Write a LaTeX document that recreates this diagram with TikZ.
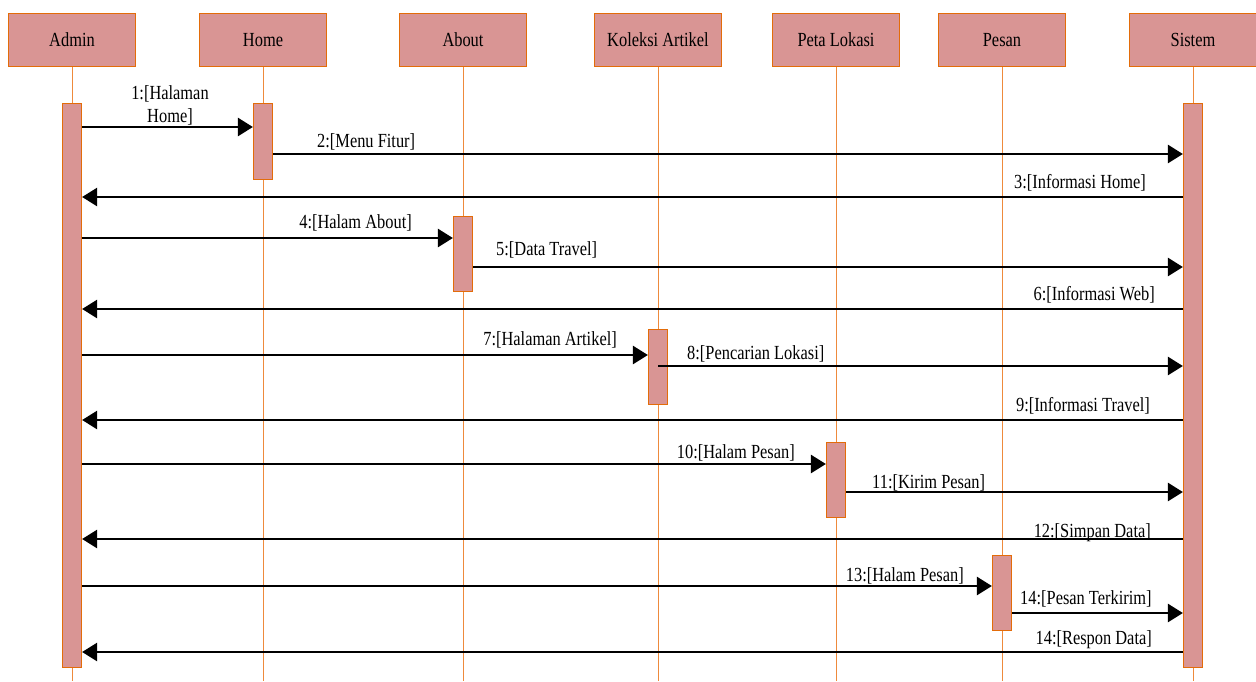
\documentclass[tikz,border=0pt]{standalone}
\usepackage{fontspec}
\setmainfont[FakeStretch=0.82]{Liberation Serif}
\usetikzlibrary{arrows.meta}
\definecolor{boxfill}{HTML}{D99594}
\definecolor{boxline}{HTML}{E36C09}
\definecolor{lifeline}{HTML}{EE8A3C}
\begin{document}
\begin{tikzpicture}[x=1pt,y=-1pt,
  every node/.style={font=\fontsize{20}{23}\selectfont, text=black},
  head/.style={draw=boxline, fill=boxfill, line width=1.2pt, minimum width=127pt, minimum height=53pt, anchor=north, inner sep=0pt},
  act/.style={draw=boxline, fill=boxfill, line width=1.2pt, minimum width=19pt, anchor=north, inner sep=0pt},
  life/.style={draw=lifeline, line width=1pt},
  msg/.style={draw=black, line width=2.6pt, -{Triangle[length=15pt,width=18pt]}},
  lbl/.style={inner sep=0pt, anchor=base west},
  lblr/.style={inner sep=0pt, anchor=base east}]
\useasboundingbox (0,0) rectangle (1256,681);
% headers
\node[head] (hAdmin) at (72,13) {Admin};
\node[head] (hHome) at (263,13) {Home};
\node[head] (hAbout) at (463,13) {About};
\node[head] (hKoleksi) at (658,13) {Koleksi Artikel};
\node[head] (hPeta) at (836,13) {Peta Lokasi};
\node[head] (hPesan) at (1002,13) {Pesan};
\node[head] (hSistem) at (1193,13) {Sistem};
% lifelines
\coordinate (eAdmin) at (72,681);
\coordinate (eHome) at (263,681);
\coordinate (eAbout) at (463,681);
\coordinate (eKoleksi) at (658,681);
\coordinate (ePeta) at (836,681);
\coordinate (ePesan) at (1002,681);
\coordinate (eSistem) at (1193,681);
\foreach \n in {Admin,Home,About,Koleksi,Peta,Pesan,Sistem}
  \draw[life] (h\n.south) -- (e\n);
% activations
\node[act, minimum height=564pt] (aAdmin) at (72,103) {};
\node[act, minimum height=564pt] (aSistem) at (1193,103) {};
\node[act, minimum height=76pt] (aHome) at (263,103) {};
\node[act, minimum height=75pt] (aAbout) at (463,216) {};
\node[act, minimum height=75pt] (aKoleksi) at (658,329) {};
\node[act, minimum height=75pt] (aPeta) at (836,442) {};
\node[act, minimum height=75pt] (aPesan) at (1002,555) {};
% messages
\draw[msg] (aAdmin.east |- 0,127) -- (aHome.west |- 0,127);
\node[align=center, inner sep=0pt, anchor=base] (l1) at (170,122) {1:[Halaman\\Home]};
\draw[msg] (aHome.east |- 0,154) -- (aSistem.west |- 0,154);
\node[lbl] (l2) at (317,147) {2:[Menu Fitur]};
\draw[msg] (aSistem.west |- 0,197) -- (aAdmin.east |- 0,197);
\node[lblr] (l3) at (1146,188) {3:[Informasi Home]};
\draw[msg] (aAdmin.east |- 0,238) -- (aAbout.west |- 0,238);
\node[lblr] (l4) at (412,228) {4:[Halam About]};
\draw[msg] (aAbout.east |- 0,267) -- (aSistem.west |- 0,267);
\node[lbl] (l5) at (496,255) {5:[Data Travel]};
\draw[msg] (aSistem.west |- 0,309) -- (aAdmin.east |- 0,309);
\node[lblr] (l6) at (1155,300) {6:[Informasi Web]};
\draw[msg] (aAdmin.east |- 0,355) -- (aKoleksi.west |- 0,355);
\node[lblr] (l7) at (617,345) {7:[Halaman Artikel]};
\draw[msg] (aKoleksi.center |- 0,366) -- (aSistem.west |- 0,366);
\node[lbl] (l8) at (687,359) {8:[Pencarian Lokasi]};
\draw[msg] (aSistem.west |- 0,420) -- (aAdmin.east |- 0,420);
\node[lblr] (l9) at (1150,411) {9:[Informasi Travel]};
\draw[msg] (aAdmin.east |- 0,464) -- (aPeta.west |- 0,464);
\node[lblr] (l10) at (795,458) {10:[Halam Pesan]};
\draw[msg] (aPeta.east |- 0,492) -- (aSistem.west |- 0,492);
\node[lbl] (l11) at (872,488) {11:[Kirim Pesan]};
\draw[msg] (aSistem.west |- 0,539) -- (aAdmin.east |- 0,539);
\node[lblr] (l12) at (1151,537) {12:[Simpan Data]};
\draw[msg] (aAdmin.east |- 0,586) -- (aPesan.west |- 0,586);
\node[lblr] (l13) at (964,581) {13:[Halam Pesan]};
\draw[msg] (aPesan.east |- 0,613) -- (aSistem.west |- 0,613);
\node[lbl] (l14) at (1020,604) {14:[Pesan Terkirim]};
\draw[msg] (aSistem.west |- 0,652) -- (aAdmin.east |- 0,652);
\node[lblr] (l15) at (1152,644) {14:[Respon Data]};
\end{tikzpicture}
\end{document}
